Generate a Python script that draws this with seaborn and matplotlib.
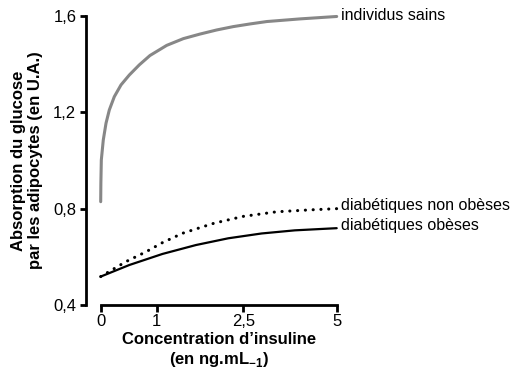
import numpy as np
import pandas as pd
import matplotlib
matplotlib.use("Agg")
import matplotlib.pyplot as plt
import seaborn as sns

# ---- data ----
x_sains = [0, 0.003, 0.011, 0.046, 0.095, 0.154, 0.243, 0.363, 0.511, 0.689, 0.880,
           1.173, 1.461, 1.750, 2.039, 2.327, 2.68, 3.13, 4.02, 5]
y_sains = [0.829, 0.905, 1.002, 1.085, 1.155, 1.210, 1.265, 1.314, 1.355, 1.397, 1.436,
           1.478, 1.506, 1.525, 1.542, 1.556, 1.567, 1.577, 1.588, 1.598]

x_non_obeses = [0, 0.45, 0.81, 1.10, 1.45, 1.80, 2.0, 2.5, 3.39, 4.29, 5]
y_non_obeses = [0.518, 0.580, 0.621, 0.659, 0.698, 0.725, 0.740, 0.768, 0.787, 0.795, 0.800]

x_obeses = [0, 0.51, 1.10, 1.68, 2.24, 2.99, 3.88, 5]
y_obeses = [0.518, 0.566, 0.612, 0.649, 0.677, 0.697, 0.710, 0.719]

series_names = ["individus sains", "diabétiques non obèses", "diabétiques obèses"]
x_ticks = [0, 1, 2.5, 5]
x_ticklabels = ["0", "1", "2,5", "5"]
y_ticks = [0.4, 0.8, 1.2, 1.6]
y_ticklabels = ["0,4", "0,8", "1,2", "1,6"]

# ---- style ----
sns.set_style("ticks")
plt.rcParams["font.family"] = ["Liberation Sans", "DejaVu Sans"]
plt.rcParams["mathtext.fontset"] = "custom"
plt.rcParams["mathtext.rm"] = "Liberation Sans"
plt.rcParams["mathtext.bf"] = "Liberation Sans:bold"
for k in ("text.color", "axes.labelcolor", "xtick.color", "ytick.color", "axes.edgecolor"):
    plt.rcParams[k] = "black"

DPI = 100
fig = plt.figure(figsize=(5.21, 3.73), dpi=DPI)
ax = fig.add_axes([100.7 / 521, 1 - 305 / 373, 236 / 521, 289 / 373])

# non-uniform axis as in the reference (piecewise linear scale)
_xb = np.array([-100, 0, 1, 2.5, 5, 100.0])
_xp = np.array([-5600, 0, 56, 142.6, 236, 236 + 95 * 37.36])
def _fwd(v):
    return np.interp(v, _xb, _xp)
def _inv(v):
    return np.interp(v, _xp, _xb)
ax.set_xscale("function", functions=(_fwd, _inv))

df_s = pd.DataFrame({"x": x_sains, "y": y_sains})
df_n = pd.DataFrame({"x": x_non_obeses, "y": y_non_obeses})
df_o = pd.DataFrame({"x": x_obeses, "y": y_obeses})

sns.lineplot(data=df_s, x="x", y="y", ax=ax, color="#878787", linewidth=2.2)
sns.lineplot(data=df_o, x="x", y="y", ax=ax, color="black", linewidth=1.6)
sns.lineplot(data=df_n, x="x", y="y", ax=ax, color="black", linewidth=2.2)
dotted = ax.lines[-1]
dotted.set_linestyle((0, (0.05, 2.5)))
dotted.set_dash_capstyle("round")
for l in ax.lines:
    l.set_clip_on(False)
    l.set_solid_joinstyle("round")

ax.set_xlim(0, 5)
ax.set_ylim(0.4, 1.6)
ax.set_xticks(x_ticks)
ax.set_xticklabels(x_ticklabels)
ax.set_yticks(y_ticks)
ax.set_yticklabels(y_ticklabels)
ax.minorticks_off()

sns.despine(ax=ax)
ax.spines["left"].set_position(("outward", 15 * 72 / DPI))
for s in ("left", "bottom"):
    ax.spines[s].set_linewidth(2.0)
    ax.spines[s].set_color("black")
ax.tick_params(axis="both", width=2.0, labelsize=12, colors="black")
ax.tick_params(axis="y", length=4.3, pad=2.5)
ax.tick_params(axis="x", length=5.0, pad=1.5)

ax.set_xlabel("Concentration d’insuline\n(en ng.mL$_{\\mathbf{-1}}$)",
              fontsize=12, fontweight="bold", linespacing=1.2, color="black")
ax.xaxis.set_label_coords(0.5, -0.093)
ax.set_ylabel("Absorption du glucose\npar les adipocytes (en U.A.)",
              fontsize=12, fontweight="bold", linespacing=1.15, color="black")
ax.yaxis.set_label_coords(-0.245, 0.5)

label_y = [1.604, 0.815, 0.732]
for name, yy in zip(series_names, label_y):
    ax.annotate(name, xy=(5, yy), xytext=(3, 0), textcoords="offset points",
                va="center", ha="left", fontsize=11.5, color="black",
                annotation_clip=False)

fig.savefig("out.png", dpi=DPI)
